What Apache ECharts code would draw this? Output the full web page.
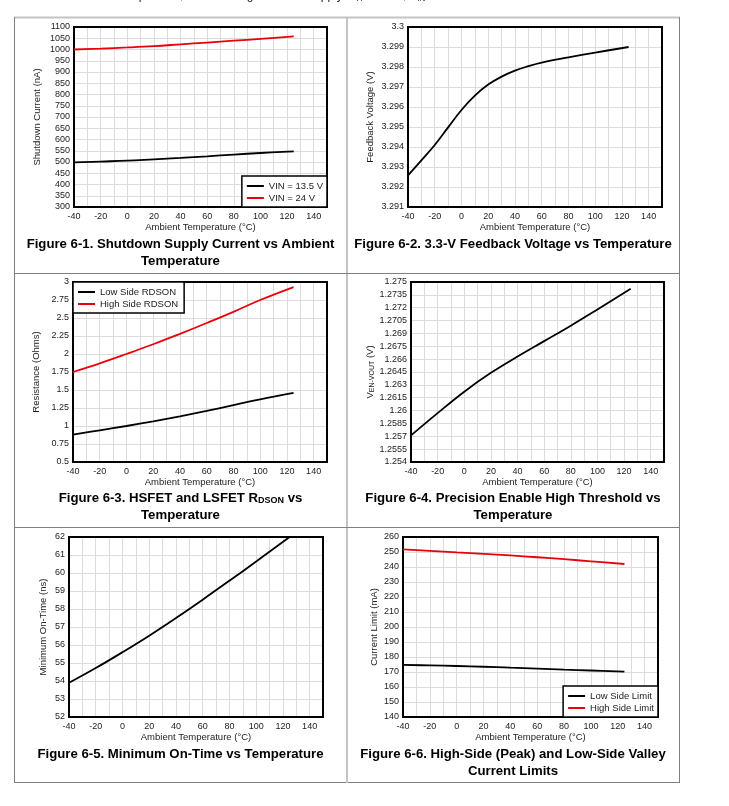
<!DOCTYPE html>
<html><head><meta charset="utf-8">
<script src="https://cdn.jsdelivr.net/npm/echarts@6/dist/echarts.min.js"></script>
<style>html,body{margin:0;padding:0;background:#fff}#c{width:729px;height:806px}</style>
</head><body><div id="c"></div>
<script>
// ---------- data ----------
const xTicks = [-40, -20, 0, 20, 40, 60, 80, 100, 120, 140];
const temps = [-40, -20, 0, 20, 40, 60, 80, 100, 125];
const tempsFb = [-40, -30, -20, -10, 0, 10, 20, 30, 40, 50, 60, 80, 100, 125];

// Fig 6-1 shutdown current (nA)
const shutdownVin135 = [498, 502, 506, 512, 518, 525, 533, 540, 547];
const shutdownVin24 = [1000, 1004, 1009, 1015, 1023, 1031, 1039, 1047, 1058];
// Fig 6-2 feedback voltage (V)
const feedbackV = [3.29258, 3.29333, 3.29410, 3.29498, 3.29585, 3.29657, 3.29712, 3.29752, 3.29782, 3.29804, 3.29822, 3.29848, 3.29872, 3.299];
// Fig 6-3 RDSON (Ohms)
const rdsonLow = [0.88, 0.94, 1.0, 1.065, 1.135, 1.21, 1.29, 1.37, 1.46];
const rdsonHigh = [1.75, 1.87, 2.0, 2.135, 2.28, 2.43, 2.585, 2.75, 2.93];
// Fig 6-4 enable threshold (V)
const enableHigh = [1.2571, 1.2597, 1.2622, 1.2644, 1.2663, 1.2681, 1.2699, 1.2718, 1.2742];
// Fig 6-5 minimum on-time (ns)
const minOnTime = [53.9, 54.72, 55.6, 56.52, 57.5, 58.52, 59.57, 60.64, 62.0];
// Fig 6-6 current limits (mA)
const limitLow = [174.7, 174.4, 174.0, 173.5, 172.9, 172.3, 171.6, 171.0, 170.2];
const limitHigh = [251.8, 250.8, 249.8, 248.8, 247.7, 246.5, 245.2, 243.8, 242.0];

// y axis ranges [min, max, interval]
const yRanges = [[300, 1100, 50], [3.291, 3.3, 0.001], [0.5, 3, 0.25], [1.254, 1.275, 0.0015], [52, 62, 1], [140, 260, 10]];
const yNames = ['Shutdown Current (nA)', 'Feedback Voltage (V)', 'Resistance (Ohms)', '{v|V}{s|EN-VOUT}{v| (V)}', 'Minimum On-Time (ns)', 'Current Limit (mA)'];

// ---------- layout ----------
const FONT = '"Liberation Sans", Arial, Helvetica, sans-serif';
const W = 729, H = 806;
const grids = [
  {l: 74, r: 327, t: 27, b: 207},
  {l: 408, r: 662, t: 27, b: 207},
  {l: 73, r: 327, t: 282, b: 462},
  {l: 411, r: 664, t: 282, b: 462},
  {l: 69, r: 323, t: 537, b: 717},
  {l: 403, r: 658, t: 537, b: 717}
];
const nameGaps = [32, 33, 32, 34, 21, 24];

function pairs(xs, ys) { return xs.map((x, i) => [x, ys[i]]); }
function fmt(v) { return String(parseFloat(v.toFixed(5))); }

const option = {
  animation: false,
  backgroundColor: '#fff',
  textStyle: {fontFamily: FONT},
  grid: grids.map(g => ({left: g.l, top: g.t, width: g.r - g.l, height: g.b - g.t, show: true, z: 2,
    borderColor: '#000', borderWidth: 2, backgroundColor: 'transparent', containLabel: false, outerBoundsMode: 'none'})),
  xAxis: grids.map((g, i) => ({
    gridIndex: i, type: 'value', min: -40, max: 150, interval: 10,
    name: 'Ambient Temperature (°C)', nameLocation: 'middle', nameGap: 15,
    nameTextStyle: {fontSize: 9.5, color: '#222', fontFamily: FONT},
    axisLine: {show: false}, axisTick: {show: false},
    axisLabel: {fontSize: 9, color: '#222', margin: 5, fontFamily: FONT,
      formatter: v => xTicks.indexOf(v) >= 0 ? String(v) : ''},
    splitLine: {show: true, lineStyle: {color: '#dcdcdc', width: 1}}
  })),
  yAxis: grids.map((g, i) => ({
    gridIndex: i, type: 'value', min: yRanges[i][0], max: yRanges[i][1], interval: yRanges[i][2],
    name: yNames[i], nameLocation: 'middle', nameGap: nameGaps[i],
    nameTextStyle: {fontSize: 9.5, color: '#222', fontFamily: FONT,
      rich: {v: {fontSize: 9.5, color: '#222'}, s: {fontSize: 7, color: '#222', padding: [3, 0, 0, 0]}}},
    axisLine: {show: false}, axisTick: {show: false},
    axisLabel: {fontSize: 9, color: '#222', margin: 4, fontFamily: FONT, formatter: fmt},
    splitLine: {show: true, lineStyle: {color: '#dcdcdc', width: 1}}
  })),
  legend: [
    {data: ['VIN = 13.5 V', 'VIN = 24 V'], right: W - 327, bottom: H - 207, orient: 'vertical', z: 5,
     borderColor: '#000', borderWidth: 1.5, backgroundColor: '#fff', padding: [5, 4, 4, 5],
     itemWidth: 17, itemHeight: 2, icon: 'rect', itemGap: 2, textStyle: {fontSize: 9.5, color: '#222', fontFamily: FONT}},
    {data: ['Low Side RDSON', 'High Side RDSON'], left: 73, top: 282, orient: 'vertical', z: 5,
     borderColor: '#000', borderWidth: 1.5, backgroundColor: '#fff', padding: [5, 6, 4, 5],
     itemWidth: 17, itemHeight: 2, icon: 'rect', itemGap: 2, textStyle: {fontSize: 9.5, color: '#222', fontFamily: FONT}},
    {data: ['Low Side Limit', 'High Side Limit'], right: W - 658, bottom: H - 717, orient: 'vertical', z: 5,
     borderColor: '#000', borderWidth: 1.5, backgroundColor: '#fff', padding: [5, 4, 4, 5],
     itemWidth: 17, itemHeight: 2, icon: 'rect', itemGap: 2, textStyle: {fontSize: 9.5, color: '#222', fontFamily: FONT}}
  ],
  series: [
    {name: 'VIN = 13.5 V', data: pairs(temps, shutdownVin135), idx: 0, color: '#000'},
    {name: 'VIN = 24 V', data: pairs(temps, shutdownVin24), idx: 0, color: '#e8000b'},
    {name: 'Feedback', data: pairs(tempsFb, feedbackV), idx: 1, color: '#000'},
    {name: 'Low Side RDSON', data: pairs(temps, rdsonLow), idx: 2, color: '#000'},
    {name: 'High Side RDSON', data: pairs(temps, rdsonHigh), idx: 2, color: '#e8000b'},
    {name: 'Enable', data: pairs(temps, enableHigh), idx: 3, color: '#000'},
    {name: 'MinOn', data: pairs(temps, minOnTime), idx: 4, color: '#000'},
    {name: 'Low Side Limit', data: pairs(temps, limitLow), idx: 5, color: '#000'},
    {name: 'High Side Limit', data: pairs(temps, limitHigh), idx: 5, color: '#e8000b'}
  ].map(s => ({type: 'line', name: s.name, data: s.data, xAxisIndex: s.idx, yAxisIndex: s.idx,
    smooth: 0.4, symbol: 'none', showSymbol: false, color: s.color,
    lineStyle: {color: s.color, width: 1.8}, z: 3})),
  graphic: []
};

// borders of the table
const gfx = option.graphic;
function line(x1, y1, x2, y2, color, w) {
  gfx.push({type: 'line', silent: true, shape: {x1, y1, x2, y2}, style: {stroke: color, lineWidth: w}, z: 1});
}
line(14, 17.5, 680, 17.5, '#c4c4c4', 2);
line(14.5, 17, 14.5, 783, '#808080', 1);
line(679.5, 17, 679.5, 783, '#808080', 1);
line(14, 782.5, 680, 782.5, '#808080', 1);
line(347, 17, 347, 783, '#c4c4c4', 2);
line(14, 273.5, 680, 273.5, '#808080', 1);
line(14, 527.5, 680, 527.5, '#808080', 1);

// header text (mostly clipped at top)
gfx.push({type: 'text', silent: true, left: 38, top: -10, style: {
  text: 'Unless otherwise specified, the following conditions apply: T{s|A} = 25°C, V{s|IN} = 24 V',
  font: '12px ' + FONT, fill: '#222', rich: {s: {fontSize: 8, padding: [6, 0, 0, 0], fill: '#222'}}}});

// figure titles
const titleFont = 'bold 13.2px ' + FONT;
function title(cx, cy, text, rich) {
  gfx.push({type: 'text', silent: true, x: cx, y: cy, style: {
    text: text, font: titleFont, fill: '#000', textAlign: 'center', textVerticalAlign: 'middle', rich: rich || {}}});
}
const L = 180.5, R = 513;
title(L, 244, 'Figure 6-1. Shutdown Supply Current vs Ambient');
title(L, 261, 'Temperature');
title(R, 244, 'Figure 6-2. 3.3-V Feedback Voltage vs Temperature');
title(L, 498, '{b|Figure 6-3. HSFET and LSFET R}{s|DSON}{b| vs}',
  {b: {font: titleFont, fill: '#000'}, s: {font: 'bold 9px ' + FONT, fill: '#000', padding: [5, 0, 0, 0]}});
title(L, 515, 'Temperature');
title(R, 498, 'Figure 6-4. Precision Enable High Threshold vs');
title(R, 515, 'Temperature');
title(L, 754, 'Figure 6-5. Minimum On-Time vs Temperature');
title(R, 754, 'Figure 6-6. High-Side (Peak) and Low-Side Valley');
title(R, 771, 'Current Limits');

const chart = echarts.init(document.getElementById('c'), null, {renderer: 'canvas'});
chart.setOption(option);
</script></body></html>
